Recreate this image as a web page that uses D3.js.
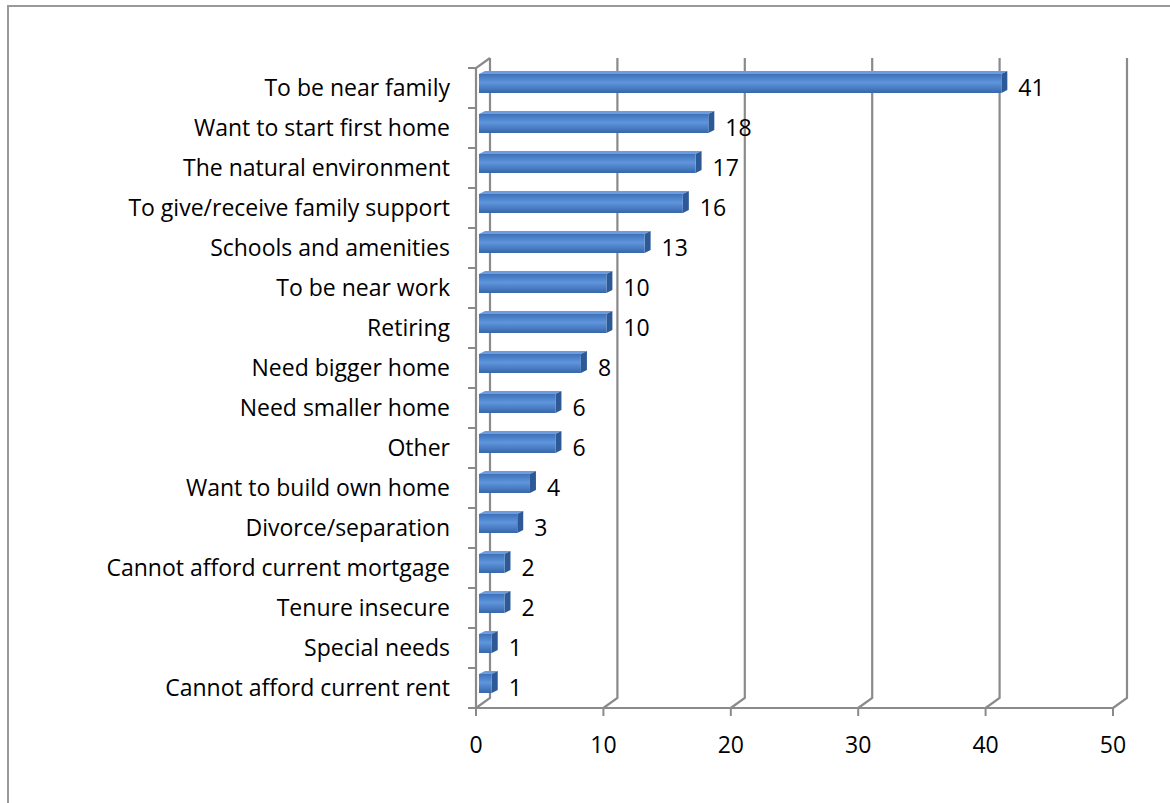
<!DOCTYPE html>
<html>
<head>
<meta charset="utf-8">
<script src="https://cdn.jsdelivr.net/npm/d3@7"></script>
<style>
  body { margin: 0; background: #fff; }
  text { font-family: "Open Sans", Lato, sans-serif; fill: #000; }
</style>
</head>
<body>
<svg width="1170" height="803"></svg>
<script>
// data
var categories = ["To be near family", "Want to start first home", "The natural environment",
  "To give/receive family support", "Schools and amenities", "To be near work", "Retiring",
  "Need bigger home", "Need smaller home", "Other", "Want to build own home",
  "Divorce/separation", "Cannot afford current mortgage", "Tenure insecure",
  "Special needs", "Cannot afford current rent"];
var values = [41, 18, 17, 16, 13, 10, 10, 8, 6, 6, 4, 3, 2, 2, 1, 1];
var xTicks = [0, 10, 20, 30, 40, 50];

var svg = d3.select("svg");

// front plane of the 3d box and the depth offset to the back wall
var pL = 476, pR = 1113, pT = 68, pB = 708;
var depth = {dx: 14, dy: -10};
var grey = "#8a8a8a";
var fs = "23px";

var x = d3.scaleLinear().domain([0, 50]).range([pL, pR]);
var y = d3.scaleBand().domain(categories).range([pT, pB]);

// outer frame (only top and left edges show)
svg.append("path")
    .attr("d", "M8,803 L8,6 L1170,6")
    .attr("fill", "none").attr("stroke", "#9a9a9a").attr("stroke-width", 2);

var defs = svg.append("defs");
var g1 = defs.append("linearGradient").attr("id", "front")
    .attr("x1", 0).attr("y1", 0).attr("x2", 0).attr("y2", 1);
g1.append("stop").attr("offset", "0%").attr("stop-color", "#3d72b8");
g1.append("stop").attr("offset", "45%").attr("stop-color", "#5f95dc");
g1.append("stop").attr("offset", "100%").attr("stop-color", "#3766aa");

// back wall gridlines and floor diagonals
var grid = svg.append("g");
xTicks.forEach(function(t) {
  grid.append("path")
      .attr("d", "M" + x(t) + "," + pB + " L" + (x(t) + depth.dx) + "," + (pB + depth.dy) +
                 " L" + (x(t) + depth.dx) + "," + (pT + depth.dy))
      .attr("fill", "none").attr("stroke", grey).attr("stroke-width", 2.2);
});

// left wall
grid.append("path")
    .attr("d", "M" + pL + "," + pB + " L" + pL + "," + pT +
               " L" + (pL + depth.dx) + "," + (pT + depth.dy))
    .attr("fill", "none").attr("stroke", grey).attr("stroke-width", 2.2);

// bottom axis line and ticks
grid.append("line")
    .attr("x1", pL).attr("x2", pR).attr("y1", pB).attr("y2", pB)
    .attr("stroke", grey).attr("stroke-width", 2.2);
grid.selectAll(".xt").data(xTicks).enter().append("line")
    .attr("x1", function(d) { return x(d); }).attr("x2", function(d) { return x(d); })
    .attr("y1", pB).attr("y2", pB + 8)
    .attr("stroke", grey).attr("stroke-width", 2);

// category ticks on the left wall
var bounds = categories.map(function(c) { return y(c); }).concat([pB]);
grid.selectAll(".yt").data(bounds).enter().append("line")
    .attr("x1", pL - 8).attr("x2", pL)
    .attr("y1", function(d) { return d; }).attr("y2", function(d) { return d; })
    .attr("stroke", grey).attr("stroke-width", 2);

// bars: top face + right side face + front face
var bd = {dx: 6, dy: -3}, off = 3, fy = 6, fh = 19;
var bars = svg.append("g").selectAll("g").data(categories).enter().append("g");

bars.append("path")
    .attr("d", function(c, i) {
      var x0 = x(0) + off, x1 = x(values[i]) + off, yt = y(c) + fy;
      return "M" + x0 + "," + yt + " L" + (x0 + bd.dx) + "," + (yt + bd.dy) +
             " L" + (x1 + bd.dx) + "," + (yt + bd.dy) + " L" + x1 + "," + yt + "Z";
    })
    .attr("fill", "#6d9be0");

bars.append("path")
    .attr("d", function(c, i) {
      var x1 = x(values[i]) + off, yt = y(c) + fy;
      return "M" + x1 + "," + yt + " L" + (x1 + bd.dx) + "," + (yt + bd.dy) +
             " L" + (x1 + bd.dx) + "," + (yt + fh + bd.dy) + " L" + x1 + "," + (yt + fh) + "Z";
    })
    .attr("fill", "#2d5a96");

bars.append("rect")
    .attr("x", x(0) + off)
    .attr("y", function(c) { return y(c) + fy; })
    .attr("width", function(c, i) { return x(values[i]) - x(0); })
    .attr("height", fh)
    .attr("fill", "url(#front)");

// value labels
bars.append("text")
    .attr("x", function(c, i) { return x(values[i]) + off + bd.dx + 11; })
    .attr("y", function(c) { return y(c) + y.bandwidth() / 2; })
    .attr("dy", "0.35em")
    .style("font-size", fs)
    .text(function(c, i) { return values[i]; });

// category labels
svg.append("g").selectAll("text").data(categories).enter().append("text")
    .attr("x", 450)
    .attr("y", function(c) { return y(c) + y.bandwidth() / 2; })
    .attr("dy", "0.35em")
    .attr("text-anchor", "end")
    .style("font-size", fs)
    .text(function(c) { return c; });

// x tick labels
svg.append("g").selectAll("text").data(xTicks).enter().append("text")
    .attr("x", function(d) { return x(d); })
    .attr("y", 745)
    .attr("dy", "0.35em")
    .attr("text-anchor", "middle")
    .style("font-size", fs)
    .text(function(d) { return d; });
</script>
</body>
</html>
